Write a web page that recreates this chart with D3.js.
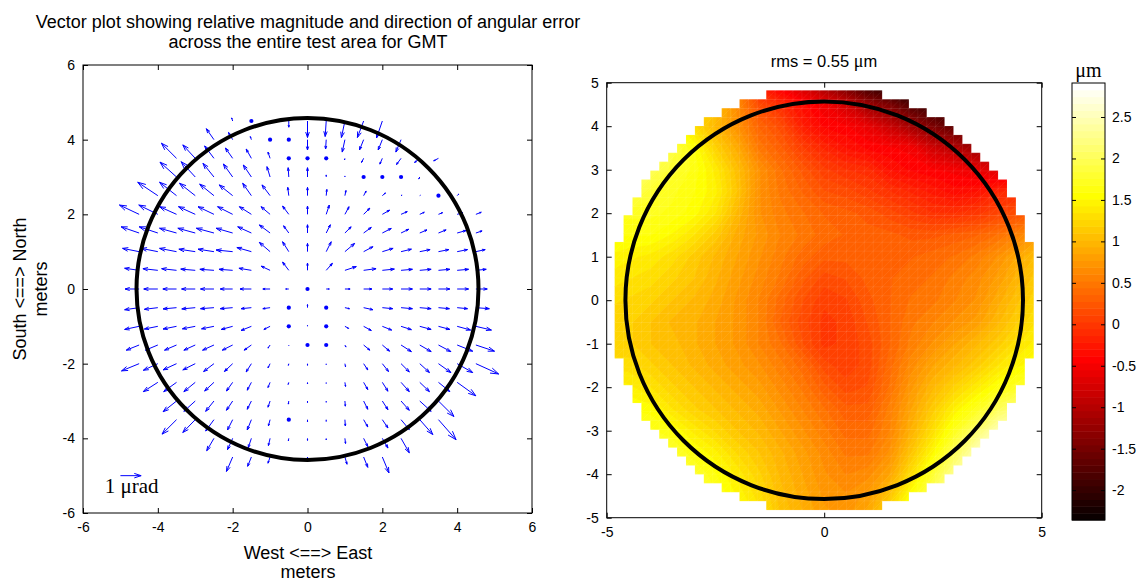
<!DOCTYPE html>
<html><head><meta charset="utf-8">
<script src="https://cdn.jsdelivr.net/npm/d3@7"></script>
<style>
body{margin:0;background:#fff}
svg{display:block}
text{font-family:"Liberation Sans",Arial,sans-serif;fill:#000}
.serif{font-family:"Liberation Serif","Times New Roman",serif}
</style>
</head><body>
<svg id="c" width="1138" height="581"></svg>
<script>
// ---------------- DATA ----------------
// Quiver grid (metres) and angular error components (µrad), null = no arrow
const arrowX = [-4.5,-4,-3.5,-3,-2.5,-2,-1.5,-1,-0.5,0,0.5,1,1.5,2,2.5,3,3.5,4,4.5];
const arrowY = [4.5,4,3.5,3,2.5,2,1.5,1,0.5,0,-0.5,-1,-1.5,-2,-2.5,-3,-3.5,-4,-4.5];
const N = null;
const arrowU = [
 [N,N,N,N,N,-0.05,N,0,0,0,-0.05,-0.17,-0.3,-0.28,N,N,N,N,N],
 [N,N,N,N,-0.37,-0.2,-0.05,N,N,0,-0.03,-0.13,-0.2,-0.2,-0.25,N,N,N,N],
 [N,N,-0.73,-0.6,-0.45,-0.35,-0.25,-0.1,N,N,N,-0.02,-0.1,-0.12,-0.22,-0.25,-0.23,N,N],
 [N,N,-0.8,-0.68,-0.53,-0.45,-0.39,-0.15,-0.03,0,0,0,N,N,N,-0.05,-0.05,N,N],
 [N,-0.97,-0.82,-0.76,-0.69,-0.65,-0.42,-0.39,-0.05,0,0.03,0.05,0.12,0.15,0.05,0.03,N,0.08,N],
 [-0.95,-0.92,-0.82,-0.81,-0.77,-0.73,-0.58,-0.44,-0.3,0,0.15,0.2,0.3,0.35,0.3,0.22,0.2,0.27,0.26],
 [-0.87,-0.9,-0.82,-0.84,-0.85,-0.8,-0.66,-0.52,-0.25,0,0.2,0.3,0.37,0.43,0.37,0.35,0.37,0.43,0.3],
 [-0.8,-0.8,-0.82,-0.79,-0.77,-0.8,-0.7,-0.52,-0.3,0,0.24,0.47,0.45,0.52,0.5,0.5,0.5,0.5,0.45],
 [-0.7,-0.72,-0.72,-0.7,-0.68,-0.66,-0.6,-0.43,-0.3,0,0.3,0.55,0.6,0.58,0.55,0.55,0.55,0.55,0.5],
 [-0.68,-0.68,-0.66,-0.66,-0.65,-0.6,-0.55,-0.35,-0.15,N,0.15,0.25,0.4,0.5,0.55,0.55,0.55,0.55,0.55],
 [-0.7,-0.65,-0.65,-0.65,-0.65,-0.6,-0.5,-0.35,N,0,N,0.22,0.45,0.5,0.55,0.55,0.53,0.5,0.65],
 [-0.7,-0.65,-0.65,-0.62,-0.6,-0.55,-0.5,-0.3,N,0,N,0.18,0.37,0.45,0.5,0.55,0.55,0.65,0.75],
 [-0.62,-0.6,-0.58,-0.55,-0.55,-0.5,-0.35,-0.1,0,N,N,0.05,0.3,0.35,0.5,0.55,0.6,0.75,0.9],
 [-0.85,-0.7,-0.65,-0.6,-0.5,-0.4,-0.25,-0.1,-0.02,0,0,0.03,0.2,0.3,0.4,0.47,0.6,0.75,1.1],
 [N,-0.7,-0.62,-0.55,-0.45,-0.3,-0.2,-0.1,-0.03,0,0,0.03,0.2,0.27,0.4,0.47,0.55,0.9,N],
 [N,N,-0.65,-0.55,-0.4,-0.3,-0.2,-0.1,-0.02,0,0,0.02,0.2,0.27,0.4,0.55,0.75,N,N],
 [N,N,-0.7,-0.6,-0.4,-0.25,-0.2,-0.08,N,0,0,0.02,0.2,0.27,0.4,0.63,0.85,N,N],
 [N,N,N,N,-0.35,-0.25,-0.15,-0.08,-0.02,0,0,0.03,0.2,0.27,0.4,N,N,N,N],
 [N,N,N,N,N,-0.3,-0.18,-0.1,-0.02,0,0,0.1,0.2,0.32,N,N,N,N,N]
];
const arrowV = [
 [N,N,N,N,N,0.15,N,-0.05,-0.3,-0.8,-0.75,-0.8,-0.8,-0.82,N,N,N,N,N],
 [N,N,N,N,0.53,0.35,0.15,N,N,-0.5,-0.45,-0.6,-0.5,-0.5,-0.6,N,N,N,N],
 [N,N,0.73,0.65,0.6,0.5,0.45,0.3,N,N,N,-0.08,-0.2,-0.28,-0.3,-0.2,-0.12,N,N],
 [N,N,0.72,0.74,0.66,0.63,0.58,0.5,0.45,0.45,0.1,0.05,N,N,N,-0.1,-0.05,N,N],
 [N,0.65,0.65,0.6,0.56,0.52,0.6,0.52,0.4,0.4,0.3,0.25,0.22,0.13,0.03,0.02,N,0.08,N],
 [0.45,0.45,0.37,0.37,0.37,0.37,0.37,0.37,0.4,0.4,0.45,0.37,0.3,0.2,0.13,0.1,0.08,0.08,0.1],
 [0.3,0.3,0.23,0.23,0.23,0.23,0.3,0.39,0.35,0.4,0.4,0.3,0.27,0.22,0.18,0.15,0.15,0.12,0.1],
 [0.16,0.16,0.16,0.12,0.12,0.08,0.2,0.45,0.48,0.4,0.48,0.4,0.24,0.16,0.12,0.1,0.1,0.1,0.1],
 [0.1,0.08,0.08,0.06,0.05,0.05,0.1,0.2,0.4,0.35,0.34,0.18,0.08,0.06,0.05,0.05,0.05,0.05,0.05],
 [0,0,0,0,0,0,0,0,0,N,0,0,0,0,0,0,0,0,0],
 [-0.1,-0.08,-0.06,-0.06,-0.05,-0.05,-0.05,-0.05,N,0.15,N,-0.05,-0.1,-0.05,-0.05,-0.05,-0.05,-0.05,-0.05],
 [-0.15,-0.13,-0.13,-0.12,-0.12,-0.15,-0.2,-0.15,N,0.05,N,-0.1,-0.2,-0.18,-0.16,-0.15,-0.15,-0.18,-0.18],
 [-0.25,-0.25,-0.25,-0.25,-0.25,-0.25,-0.25,-0.15,-0.03,N,N,-0.1,-0.25,-0.3,-0.32,-0.32,-0.32,-0.3,-0.3],
 [-0.35,-0.32,-0.3,-0.3,-0.38,-0.38,-0.4,-0.2,-0.08,-0.08,-0.05,-0.15,-0.3,-0.38,-0.4,-0.43,-0.43,-0.43,-0.5],
 [N,-0.45,-0.45,-0.45,-0.42,-0.42,-0.38,-0.25,-0.1,-0.08,-0.05,-0.2,-0.35,-0.43,-0.45,-0.45,-0.45,-0.65,N],
 [N,N,-0.52,-0.5,-0.5,-0.45,-0.4,-0.3,-0.15,-0.08,-0.06,-0.25,-0.4,-0.42,-0.45,-0.5,-0.75,N,N],
 [N,N,-0.7,-0.62,-0.55,-0.5,-0.5,-0.3,N,-0.1,-0.08,-0.3,-0.35,-0.4,-0.48,-0.72,-0.97,N,N],
 [N,N,N,N,-0.6,-0.55,-0.45,-0.35,-0.12,-0.1,-0.08,-0.25,-0.4,-0.47,-0.7,N,N,N,N],
 [N,N,N,N,N,-0.7,-0.45,-0.3,-0.12,-0.05,-0.08,-0.35,-0.5,-0.77,N,N,N,N,N]
];
// points drawn as dots
const dotX = [-1.5,-1,-0.5,-0.5,0,0.5,1.5,2,2.5,3.5,0,-0.5,0.5,-0.5,0.5,0,0.5,-0.5];
const dotY = [4.5,4,4,3.5,3.5,3.5,3,3,3,2.5,0,-0.5,-0.5,-1,-1,-1.5,-1.5,-3.5];
const legendArrow = {x:-5, y:-5, u:1, v:0, label:"1 μrad"};
const circleRadius = 4.57;
const leftTicks = [-6,-4,-2,0,2,4,6];

// Surface error (µm) on a 0.5 m grid, rows from y=5 (top) to y=-5
const surfX = [-5,-4.5,-4,-3.5,-3,-2.5,-2,-1.5,-1,-0.5,0,0.5,1,1.5,2,2.5,3,3.5,4,4.5,5];
const surfY = [5,4.5,4,3.5,3,2.5,2,1.5,1,0.5,0,-0.5,-1,-1.5,-2,-2.5,-3,-3.5,-4,-4.5,-5];
const surfZ = [
 [1.8,1.8,1.8,1.7,1.4,1.1,0.7,-0.3,-0.6,-0.9,-1.3,-1.7,-2.1,-2.3,-2.3,-2.3,-2.2,-2.0,-1.8,-1.5,-1.2],
 [1.9,1.9,1.8,1.6,1.4,1.1,0.65,0.15,-0.1,-0.35,-0.55,-0.8,-1.2,-1.45,-1.8,-2.0,-2.0,-1.8,-1.6,-1.3,-1.0],
 [1.9,1.9,1.8,1.6,1.3,1.0,0.7,0.35,0.15,-0.2,-0.4,-0.45,-0.6,-0.85,-1.15,-1.45,-1.7,-1.7,-1.5,-1.2,-1.0],
 [2.0,2.0,2.0,1.9,1.6,1.2,0.9,0.5,0.3,0.05,-0.15,-0.3,-0.4,-0.45,-0.5,-0.8,-1.0,-1.2,-1.2,-1.0,-0.8],
 [2.1,2.1,2.0,1.8,1.65,1.4,1.05,0.7,0.45,0.25,0.05,-0.05,-0.1,-0.3,-0.4,-0.45,-0.5,-0.6,-0.7,-0.7,-0.6],
 [2.0,2.0,1.8,1.7,1.6,1.45,1.1,0.7,0.5,0.35,0.2,0.15,0.05,-0.05,-0.15,-0.25,-0.35,-0.3,-0.15,-0.1,-0.1],
 [1.7,1.7,1.7,1.65,1.55,1.35,1.0,0.7,0.55,0.45,0.35,0.3,0.25,0.15,0.05,-0.05,-0.05,0.0,0.1,0.2,0.3],
 [1.6,1.6,1.6,1.5,1.35,1.15,0.9,0.75,0.6,0.5,0.4,0.35,0.3,0.3,0.25,0.25,0.3,0.35,0.45,0.6,0.8],
 [1.5,1.45,1.4,1.3,1.15,1.0,0.85,0.7,0.55,0.4,0.3,0.3,0.3,0.3,0.35,0.4,0.45,0.55,0.7,0.9,1.1],
 [1.4,1.35,1.3,1.2,1.1,0.95,0.8,0.65,0.5,0.3,0.15,0.2,0.3,0.35,0.4,0.45,0.55,0.65,0.8,1.0,1.2],
 [1.3,1.25,1.2,1.1,1.0,0.9,0.75,0.6,0.4,0.2,0.05,0.1,0.25,0.35,0.45,0.5,0.6,0.7,0.9,1.1,1.3],
 [1.2,1.2,1.1,1.0,0.95,0.85,0.75,0.6,0.35,0.15,0.0,0.05,0.2,0.35,0.5,0.6,0.7,0.8,1.0,1.2,1.4],
 [1.2,1.2,1.1,1.05,0.95,0.85,0.75,0.6,0.45,0.2,0.0,0.05,0.15,0.35,0.55,0.7,0.85,1.0,1.15,1.35,1.5],
 [1.3,1.3,1.2,1.1,1.0,0.9,0.8,0.7,0.55,0.4,0.15,0.05,0.15,0.4,0.65,0.85,1.0,1.15,1.35,1.5,1.6],
 [1.5,1.45,1.35,1.2,1.1,1.0,0.9,0.8,0.65,0.5,0.3,0.15,0.2,0.45,0.75,1.0,1.2,1.4,1.6,1.75,1.9],
 [1.6,1.6,1.55,1.35,1.2,1.1,1.0,0.9,0.75,0.6,0.45,0.3,0.3,0.55,0.85,1.15,1.45,1.7,2.0,2.2,2.3],
 [1.7,1.7,1.7,1.6,1.4,1.25,1.1,1.0,0.85,0.7,0.55,0.4,0.4,0.6,0.95,1.3,1.7,2.1,2.5,2.6,2.6],
 [1.8,1.8,1.8,1.8,1.6,1.45,1.25,1.1,0.95,0.8,0.65,0.5,0.5,0.7,1.1,1.5,2.0,2.5,2.7,2.7,2.7],
 [1.8,1.8,1.8,1.8,1.8,1.6,1.4,1.2,1.0,0.85,0.7,0.6,0.65,0.85,1.3,1.8,2.3,2.6,2.7,2.7,2.7],
 [1.8,1.8,1.8,1.8,1.8,1.7,1.5,1.3,1.05,0.9,0.75,0.7,0.8,1.1,1.6,2.0,2.4,2.6,2.7,2.7,2.7],
 [1.8,1.8,1.8,1.8,1.8,1.7,1.6,1.4,1.1,0.95,0.8,0.75,0.9,1.3,1.8,2.2,2.5,2.7,2.7,2.7,2.7]
];
const colorRange = [-2.36, 2.91];
const colorTicks = [-2,-1.5,-1,-0.5,0,0.5,1,1.5,2,2.5];
const rightXTicks = [-5,0,5];
const rightYTicks = [-5,-4,-3,-2,-1,0,1,2,3,4,5];
const maskCell = 0.205;      // measurement cell size (m)
const maskRadiusCells2 = 570; // squared radius of measured area in cells

// ---------------- DRAW ----------------
const svg = d3.select("#c");
const FS = 14;   // tick labels
const LFS = 18;  // titles and axis labels
const fmt = d => String(d);

function hot(k){
  const r = k < 24 ? (k+1)/24 : 1;
  const g = k < 24 ? 0 : (k < 48 ? (k-23)/24 : 1);
  const b = k < 48 ? 0 : (k-47)/16;
  return d3.rgb(r*255, g*255, b*255).toString();
}

function boxAxes(g, xs, ys, xt, yt, tl){
  const [x0,x1] = xs.range(), [y1,y0] = ys.range();
  g.append("g").attr("transform",`translate(0,${y1})`)
    .call(d3.axisBottom(xs).tickValues(xt).tickSizeInner(-tl).tickSizeOuter(0).tickPadding(9).tickFormat(fmt))
    .call(a=>{a.select(".domain").remove(); a.selectAll("text").attr("font-size",FS).attr("font-family",null);});
  g.append("g").attr("transform",`translate(0,${y0})`)
    .call(d3.axisTop(xs).tickValues(xt).tickSizeInner(-tl).tickSizeOuter(0).tickFormat(""))
    .call(a=>a.select(".domain").remove());
  g.append("g").attr("transform",`translate(${x0},0)`)
    .call(d3.axisLeft(ys).tickValues(yt).tickSizeInner(-tl).tickSizeOuter(0).tickPadding(8).tickFormat(fmt))
    .call(a=>{a.select(".domain").remove(); a.selectAll("text").attr("font-size",FS).attr("font-family",null);});
  g.append("g").attr("transform",`translate(${x1},0)`)
    .call(d3.axisRight(ys).tickValues(yt).tickSizeInner(-tl).tickSizeOuter(0).tickFormat(""))
    .call(a=>a.select(".domain").remove());
  g.selectAll(".tick line").attr("stroke","#000");
  g.append("rect").attr("x",x0).attr("y",y0).attr("width",x1-x0).attr("height",y1-y0)
    .attr("fill","none").attr("stroke","#000").attr("stroke-width",1);
}

// ---- Left: quiver ----
const xL = d3.scaleLinear().domain([-6,6]).range([83,532]);
const yL = d3.scaleLinear().domain([-6,6]).range([513,65]);
const gL = svg.append("g");
const kScale = 20.7/37.4; // metres of plot per µrad

function arrowPath(x, y, u, v){
  const hu = u*kScale, hv = v*kScale, a = 0.33, b = 0.33;
  const tx = x+hu, ty = y+hv;
  const p = d3.path();
  p.moveTo(xL(x), yL(y)); p.lineTo(xL(tx), yL(ty));
  p.moveTo(xL(tx - a*(hu + b*hv)), yL(ty - a*(hv - b*hu)));
  p.lineTo(xL(tx), yL(ty));
  p.lineTo(xL(tx - a*(hu - b*hv)), yL(ty - a*(hv + b*hu)));
  return p.toString();
}
const arrows = [];
arrowY.forEach((y,i)=>arrowX.forEach((x,j)=>{
  const u = arrowU[i][j], v = arrowV[i][j];
  if (u !== null && v !== null) arrows.push({x,y,u,v});
}));
gL.append("g").selectAll("path").data(arrows).join("path")
  .attr("d",d=>arrowPath(d.x,d.y,d.u,d.v))
  .attr("fill","none").attr("stroke","#0000ff").attr("stroke-width",1);
gL.append("g").selectAll("circle").data(dotX.map((x,i)=>({x,y:dotY[i]}))).join("circle")
  .attr("cx",d=>xL(d.x)).attr("cy",d=>yL(d.y)).attr("r",2.1).attr("fill","#0000ff");
gL.append("circle").attr("cx",xL(0)).attr("cy",yL(0)).attr("r",xL(circleRadius)-xL(0))
  .attr("fill","none").attr("stroke","#000").attr("stroke-width",4);
gL.append("path").attr("d",arrowPath(legendArrow.x,legendArrow.y,legendArrow.u,legendArrow.v))
  .attr("fill","none").attr("stroke","#0000ff").attr("stroke-width",1);
gL.append("text").attr("class","serif").attr("x",xL(-5.42)).attr("y",yL(-5.46))
  .attr("font-size",21).text(legendArrow.label);
boxAxes(gL, xL, yL, leftTicks, leftTicks, 5);

gL.append("text").attr("x",308).attr("y",28).attr("text-anchor","middle").attr("font-size",LFS)
  .text("Vector plot showing relative magnitude and direction of angular error");
gL.append("text").attr("x",308).attr("y",48).attr("text-anchor","middle").attr("font-size",LFS)
  .text("across the entire test area for GMT");
gL.append("text").attr("x",308).attr("y",559).attr("text-anchor","middle").attr("font-size",LFS).text("West <==> East");
gL.append("text").attr("x",308).attr("y",578).attr("text-anchor","middle").attr("font-size",LFS).text("meters");
gL.append("text").attr("transform","translate(26,289) rotate(-90)").attr("text-anchor","middle").attr("font-size",LFS).text("South <==> North");
gL.append("text").attr("transform","translate(47,289) rotate(-90)").attr("text-anchor","middle").attr("font-size",LFS).text("meters");

// ---- Right: surface map ----
const xR = d3.scaleLinear().domain([-5,5]).range([606.7,1041.7]);
const yR = d3.scaleLinear().domain([-5,5]).range([517.7,82.7]);
const gR = svg.append("g");
const defs = svg.append("defs");
const clip = defs.append("clipPath").attr("id","mask");
const maxJ = Math.floor(Math.sqrt(maskRadiusCells2));
for (let j=-maxJ; j<=maxJ; j++){
  const im = Math.floor(Math.sqrt(maskRadiusCells2 - j*j));
  clip.append("rect")
    .attr("x", xR(-(im+0.5)*maskCell)).attr("width", xR((im+0.5)*maskCell)-xR(-(im+0.5)*maskCell))
    .attr("y", yR((j+0.5)*maskCell)-0.3).attr("height", yR((j-0.5)*maskCell)-yR((j+0.5)*maskCell)+0.6);
}
const nx = surfX.length, ny = surfY.length;
const dxs = surfX[1]-surfX[0], dys = surfY[0]-surfY[1];
const values = surfZ.flat();
const span = colorRange[1]-colorRange[0];
const thresholds = d3.range(64).map(k=>colorRange[0]+k*span/64);
const contours = d3.contours().size([nx,ny]).smooth(true).thresholds(thresholds)(values);
const proj = d3.geoTransform({point:function(px,py){
  this.stream.point(xR(surfX[0]+(px-0.5)*dxs), yR(surfY[0]-(py-0.5)*dys));
}});
const gpath = d3.geoPath(proj);
const gMap = gR.append("g").attr("clip-path","url(#mask)");
gMap.selectAll("path.band").data(contours).join("path").attr("class","band")
  .attr("d",gpath).attr("fill",(d,i)=>hot(i)).attr("stroke",(d,i)=>hot(i)).attr("stroke-width",0.3);
// faint facet mesh of measurement cells
const mesh = d3.path();
for (let i=-maxJ-1; i<=maxJ; i++){
  const c = (i+0.5)*maskCell;
  mesh.moveTo(xR(c), yR(5)); mesh.lineTo(xR(c), yR(-5));
  mesh.moveTo(xR(-5), yR(c)); mesh.lineTo(xR(5), yR(c));
}
for (let m=-60; m<=60; m++){
  const o = m*maskCell;
  mesh.moveTo(xR(-5), yR(-5-o)); mesh.lineTo(xR(5), yR(5-o));
}
gMap.append("path").attr("d",mesh.toString()).attr("fill","none")
  .attr("stroke","rgba(255,255,255,0.12)").attr("stroke-width",0.6);
gR.append("circle").attr("cx",xR(0)).attr("cy",yR(0)).attr("r",xR(circleRadius)-xR(0))
  .attr("fill","none").attr("stroke","#000").attr("stroke-width",4);
boxAxes(gR, xR, yR, rightXTicks, rightYTicks, 5);
const tt = gR.append("text").attr("x",824).attr("y",67).attr("text-anchor","middle").attr("font-size",16.5);
tt.append("tspan").text("rms = 0.55 ");
tt.append("tspan").attr("class","serif").attr("font-size",18).text("μ");
tt.append("tspan").text("m");

// ---- Colorbar ----
const cb = d3.scaleLinear().domain(colorRange).range([520,83]);
const gC = svg.append("g");
gC.selectAll("rect.c").data(d3.range(64)).join("rect").attr("class","c")
  .attr("x",1072).attr("width",33)
  .attr("y",k=>cb(colorRange[0]+(k+1)*span/64)).attr("height",k=>cb(colorRange[0]+k*span/64)-cb(colorRange[0]+(k+1)*span/64)+0.5)
  .attr("fill",k=>hot(k));
gC.append("g").attr("transform","translate(1105,0)")
  .call(d3.axisRight(cb).tickValues(colorTicks).tickSizeInner(-4).tickSizeOuter(0).tickPadding(7).tickFormat(fmt))
  .call(a=>{a.select(".domain").remove(); a.selectAll("text").attr("font-size",FS).attr("font-family",null); a.selectAll("line").attr("stroke","#000");});
gC.append("g").attr("transform","translate(1072,0)")
  .call(d3.axisLeft(cb).tickValues(colorTicks).tickSizeInner(-4).tickSizeOuter(0).tickFormat(""))
  .call(a=>{a.select(".domain").remove(); a.selectAll("line").attr("stroke","#000");});
gC.append("rect").attr("x",1072).attr("y",83).attr("width",33).attr("height",437)
  .attr("fill","none").attr("stroke","#000");
gC.append("text").attr("class","serif").attr("x",1088.5).attr("y",77).attr("text-anchor","middle")
  .attr("font-size",20).text("μm");
</script>
</body></html>
